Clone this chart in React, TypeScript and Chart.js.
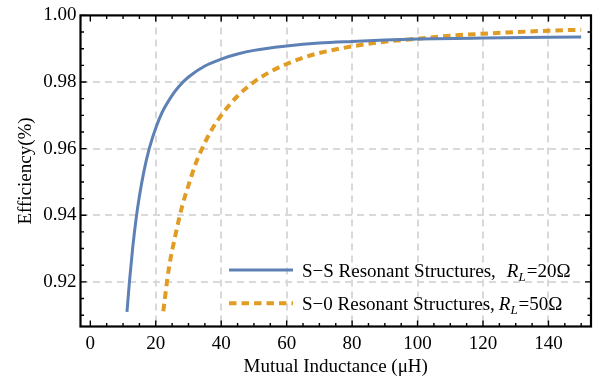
import React, { useEffect, useRef } from "react";
import { Chart, registerables } from "chart.js";

Chart.register(...registerables);

// S-S resonant structures, R_L = 20 Ω
const ssInductance = [11.2, 12, 13, 14, 15, 16.3, 18, 20, 22, 25, 27, 30, 35, 40, 45, 50, 60, 70, 80, 90, 100, 120, 150];
const ssEfficiency = [0.911, 0.9205, 0.9307, 0.939, 0.9457, 0.9528, 0.96, 0.9662, 0.971, 0.976, 0.9786, 0.9815, 0.9848, 0.9869, 0.9884, 0.9895, 0.9908, 0.9917, 0.9922, 0.9926, 0.9929, 0.9932, 0.9935];

// S-0 resonant structures, R_L = 50 Ω
const s0Inductance = [22.3, 24, 26, 28, 30, 32, 34, 37, 40, 45, 50, 55, 60, 66, 70, 80, 90, 100, 110, 120, 130, 140, 150];
const s0Efficiency = [0.9112, 0.924, 0.934, 0.9425, 0.949, 0.955, 0.9597, 0.9655, 0.97, 0.9758, 0.98, 0.9831, 0.9854, 0.9876, 0.9887, 0.9907, 0.9921, 0.993, 0.9939, 0.9945, 0.995, 0.9954, 0.9957];

const xTicks = [0, 20, 40, 60, 80, 100, 120, 140];
const yTicks = [0.92, 0.94, 0.96, 0.98, 1.0];
const X_MIN = -3;
const X_MAX = 153;
const Y_MIN = 0.9066;
const Y_MAX = 1.0;

const seriesLabels = ["S\u2212S Resonant Structures,", "S\u22120 Resonant Structures,"];
const seriesLoads = ["=20\u03a9", "=50\u03a9"];

const FONT = "'Liberation Serif', 'Times New Roman', serif";
const BLUE = "#5E81B5";
const ORANGE = "#E19C24";

const framePlugin = {
  id: "frameAndLegend",
  afterDraw(chart: any) {
    const { ctx, chartArea: a, scales } = chart;
    const xs = scales.x;
    const ys = scales.y;
    ctx.save();
    // inward ticks on all four sides
    ctx.strokeStyle = "#000";
    ctx.lineWidth = 1.4;
    ctx.beginPath();
    for (let i = 0; i <= 30; i++) {
      const v = i * 5;
      const major = i % 4 === 0;
      const len = major ? 6 : 3.5;
      const px = xs.getPixelForValue(v);
      ctx.moveTo(px, a.bottom);
      ctx.lineTo(px, a.bottom - len);
      ctx.moveTo(px, a.top);
      ctx.lineTo(px, a.top + len);
    }
    for (let i = 0; i <= 18; i++) {
      const v = 0.91 + i * 0.005;
      const major = i % 4 === 2;
      const len = major ? 6 : 3.5;
      const py = ys.getPixelForValue(v);
      ctx.moveTo(a.left, py);
      ctx.lineTo(a.left + len, py);
      ctx.moveTo(a.right, py);
      ctx.lineTo(a.right - len, py);
    }
    ctx.stroke();
    ctx.lineWidth = 2.2;
    ctx.strokeRect(a.left, a.top, a.right - a.left, a.bottom - a.top);

    // legend
    const ds = chart.data.datasets;
    const rows = [
      { y: 270, textY: 276.5, gap: 11 },
      { y: 303.3, textY: 310, gap: 4 },
    ];
    rows.forEach((r, i) => {
      const d = ds[i];
      ctx.beginPath();
      ctx.strokeStyle = d.borderColor;
      ctx.lineWidth = d.borderWidth;
      ctx.setLineDash(d.borderDash || []);
      ctx.moveTo(229, r.y);
      ctx.lineTo(293, r.y);
      ctx.stroke();
      ctx.setLineDash([]);
      ctx.fillStyle = "#000";
      ctx.textBaseline = "alphabetic";
      ctx.textAlign = "left";
      ctx.font = `19px ${FONT}`;
      let x = 302;
      ctx.fillText(seriesLabels[i], x, r.textY);
      x += ctx.measureText(seriesLabels[i]).width + r.gap;
      ctx.font = `italic 19px ${FONT}`;
      ctx.fillText("R", x, r.textY);
      x += ctx.measureText("R").width;
      ctx.font = `italic 13px ${FONT}`;
      ctx.fillText("L", x, r.textY + 4);
      x += ctx.measureText("L").width + 1;
      ctx.font = `19px ${FONT}`;
      ctx.fillText(seriesLoads[i], x, r.textY);
    });
    ctx.restore();
  },
};

export default function App() {
  const ref = useRef<HTMLCanvasElement | null>(null);
  useEffect(() => {
    if (!ref.current) return;
    Chart.defaults.font.family = FONT;
    Chart.defaults.color = "#000";
    const gridColor = (c: any) =>
      c.tick && (c.tick.value === 0 || c.tick.value === 1) ? "rgba(0,0,0,0)" : "#d9d9d9";
    const chart = new Chart(ref.current, {
      type: "line",
      data: {
        datasets: [
          {
            label: "S-S",
            data: ssInductance.map((m, i) => ({ x: m, y: ssEfficiency[i] })),
            borderColor: BLUE,
            borderWidth: 3,
            pointRadius: 0,
            cubicInterpolationMode: "monotone",
            fill: false,
          },
          {
            label: "S-0",
            data: s0Inductance.map((m, i) => ({ x: m, y: s0Efficiency[i] })),
            borderColor: ORANGE,
            borderWidth: 4,
            borderDash: [7.5, 5],
            borderCapStyle: "butt",
            pointRadius: 0,
            cubicInterpolationMode: "monotone",
            fill: false,
          },
        ],
      },
      options: {
        responsive: false,
        animation: false,
        events: [],
        layout: { padding: { top: 13.5, right: 11, left: 0, bottom: 0 } },
        plugins: { legend: { display: false }, tooltip: { enabled: false } },
        scales: {
          x: {
            type: "linear",
            min: X_MIN,
            max: X_MAX,
            afterBuildTicks: (s: any) => {
              s.ticks = xTicks.map((v) => ({ value: v }));
            },
            afterFit: (s: any) => {
              s.height = 58.5;
            },
            grid: { color: gridColor, lineWidth: 2, drawTicks: false },
            border: { display: false, dash: [7, 5] },
            ticks: { font: { size: 19 }, padding: 6, maxRotation: 0, autoSkip: false },
            title: {
              display: true,
              text: "Mutual Inductance (\u03bcH)",
              font: { size: 19 },
              padding: { top: 0, bottom: 7 },
            },
          },
          y: {
            type: "linear",
            min: Y_MIN,
            max: Y_MAX,
            afterBuildTicks: (s: any) => {
              s.ticks = yTicks.map((v) => ({ value: v }));
            },
            afterFit: (s: any) => {
              s.width = 80.5;
            },
            grid: { color: gridColor, lineWidth: 2, drawTicks: false },
            border: { display: false, dash: [7, 5] },
            ticks: {
              font: { size: 19 },
              padding: 4,
              autoSkip: false,
              callback: (v: any) => Number(v).toFixed(2),
            },
            title: {
              display: true,
              text: "Efficiency(%)",
              font: { size: 19 },
              padding: { top: 15, bottom: 0 },
            },
          },
        },
      },
      plugins: [framePlugin],
    } as any);
    return () => chart.destroy();
  }, []);
  return (
    <div style={{ position: "fixed", left: 0, top: 0, width: 602, height: 385, background: "#fff" }}>
      <canvas ref={ref} width={602} height={385} style={{ display: "block" }} />
    </div>
  );
}
